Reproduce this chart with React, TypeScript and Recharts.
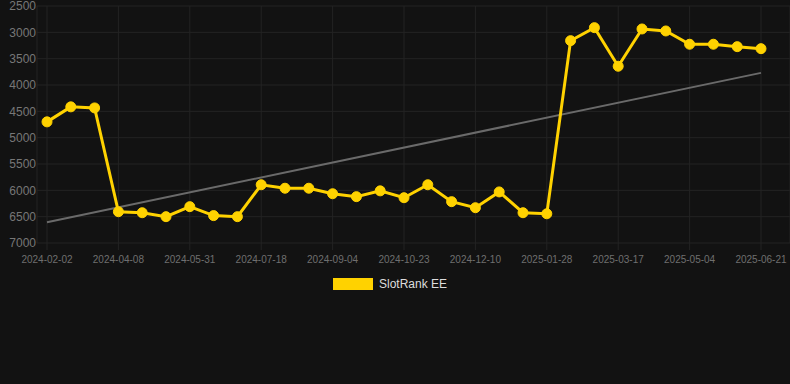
import React from "react";
import { LineChart, Line, XAxis, YAxis, CartesianGrid } from "recharts";

const dates: string[] = [
  "2024-02-02", "2024-02-24", "2024-03-17",
  "2024-04-08", "2024-04-26", "2024-05-13",
  "2024-05-31", "2024-06-16", "2024-07-02",
  "2024-07-18", "2024-08-03", "2024-08-19",
  "2024-09-04", "2024-09-20", "2024-10-07",
  "2024-10-23", "2024-11-08", "2024-11-24",
  "2024-12-10", "2024-12-26", "2025-01-12",
  "2025-01-28", "2025-02-13", "2025-03-01",
  "2025-03-17", "2025-04-02", "2025-04-18",
  "2025-05-04", "2025-05-20", "2025-06-05",
  "2025-06-21",
];

const ranks: number[] = [
  4700, 4415, 4435,
  6406, 6425, 6500,
  6310, 6480, 6500,
  5894, 5960, 5960,
  6065, 6120, 6010,
  6140, 5894, 6215,
  6330, 6030, 6425,
  6445, 3158, 2911,
  3644, 2936, 2974,
  3226, 3226, 3272,
  3310,
];

const trendStart = 6605;
const trendEnd = 3770;

const yTicks: number[] = [2500, 3000, 3500, 4000, 4500, 5000, 5500, 6000, 6500, 7000];

const seriesName = "SlotRank EE";

const data = dates.map((d, i) => ({
  date: d,
  rank: ranks[i],
  trend: i === 0 ? trendStart : i === dates.length - 1 ? trendEnd : null,
}));

const YELLOW = "#FFD200";
const GRID = "#232323";

export default function App() {
  return (
    <div
      style={{
        position: "fixed",
        left: 0,
        top: 0,
        width: 790,
        height: 384,
        background: "#121212",
        fontFamily: "Arial, 'Liberation Sans', sans-serif",
      }}
    >
      <LineChart
        width={790}
        height={270}
        data={data}
        margin={{ top: 6, right: 0, bottom: 0, left: 0 }}
      >
        <CartesianGrid stroke={GRID} strokeWidth={1} />
        <XAxis
          dataKey="date"
          interval={2}
          padding={{ left: 10, right: 29 }}
          height={27}
          axisLine={false}
          tickLine={{ stroke: GRID }}
          tickSize={7}
          tickMargin={6}
          tick={{ fill: "#6f6f6f", fontSize: 10 }}
        />
        <YAxis
          reversed
          domain={[2500, 7000]}
          ticks={yTicks}
          width={37}
          axisLine={false}
          tickLine={false}
          tickSize={0}
          tickMargin={1}
          interval={0}
          tick={{ fill: "#777777", fontSize: 12 }}
        />
        <Line
          dataKey="trend"
          connectNulls
          stroke="#6a6a6a"
          strokeWidth={2}
          dot={false}
          activeDot={false}
          isAnimationActive={false}
        />
        <Line
          dataKey="rank"
          stroke={YELLOW}
          strokeWidth={3}
          dot={{ r: 5, fill: YELLOW, stroke: YELLOW, strokeWidth: 1 }}
          activeDot={false}
          isAnimationActive={false}
        />
      </LineChart>
      <div
        style={{
          position: "absolute",
          left: 333,
          top: 278,
          display: "flex",
          alignItems: "center",
          height: 12,
        }}
      >
        <div style={{ width: 40, height: 12, background: YELLOW }} />
        <span style={{ marginLeft: 6, color: "#dddddd", fontSize: 12, lineHeight: "12px" }}>
          {seriesName}
        </span>
      </div>
    </div>
  );
}
